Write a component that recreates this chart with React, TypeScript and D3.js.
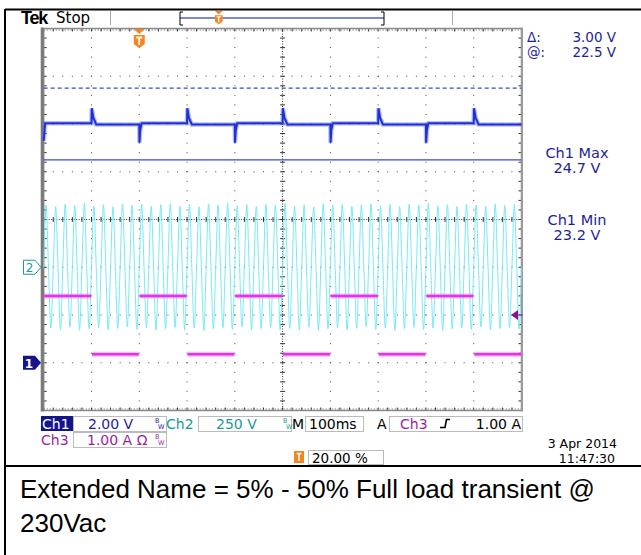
import React from 'react';
import * as d3 from 'd3';

// ---------------- DATA ----------------
// Time base: 100 ms/div, 10 divisions on screen (ms from left edge)
const timeDomain = [0, 1000];
const triggerTimeMs = 200; // 20.00 %

// Ch1: output voltage (V), 2.00 V/div
const ch1Times = [0, 3, 100, 100.6, 104, 110, 200, 200.4, 202, 205, 300, 300.6, 304, 310, 400, 400.4, 402, 405, 500, 500.6, 504, 510, 600, 600.4, 602, 605, 700, 700.6, 704, 710, 800, 800.4, 802, 805, 900, 900.6, 904, 910, 1000];
const ch1Volts = [23.3, 24.03, 24.03, 24.66, 24.25, 23.98, 23.98, 23.22, 23.75, 24.03, 24.03, 24.66, 24.25, 23.98, 23.98, 23.22, 23.75, 24.03, 24.03, 24.66, 24.25, 23.98, 23.98, 23.22, 23.75, 24.03, 24.03, 24.66, 24.25, 23.98, 23.98, 23.22, 23.75, 24.03, 24.03, 24.66, 24.25, 23.98, 23.98];

// Ch2: AC line voltage (V), 250 V/div, 50 Hz -> one peak / trough per 20 ms cycle
const ch2Peaks = [326, 318, 330, 322, 334, 320, 328, 316, 332, 324, 330, 319, 327, 333, 321, 329, 317, 331, 325, 334, 322, 328, 318, 330, 326, 335, 320, 328, 316, 332, 324, 330, 319, 327, 333, 321, 329, 317, 331, 325, 334, 322, 328, 318, 330, 326, 320, 332, 324, 328];
const ch2Troughs = [-318, -326, -314, -330, -322, -316, -328, -320, -312, -326, -318, -330, -322, -315, -327, -319, -331, -323, -317, -325, -313, -329, -321, -316, -328, -320, -326, -314, -330, -322, -316, -328, -320, -312, -326, -318, -330, -322, -315, -327, -319, -331, -323, -317, -325, -313, -329, -321, -316, -324];

// Ch3: load current (A), 1.00 A/div
const ch3Edges = [0, 100, 200, 300, 400, 500, 600, 700, 800, 900, 1000];
const ch3Levels = [1.40, 0.18, 1.40, 0.18, 1.40, 0.18, 1.40, 0.18, 1.40, 0.18];

// Cursors (Ch1)
const cursorVolts = [25.5, 22.5];

// Readouts
const measureLabels = ['Ch1 Max', 'Ch1 Min'];
const measureValues = ['24.7 V', '23.2 V'];
const titleLines = ['Extended Name = 5% - 50% Full load transient @', '230Vac'];

// ---------------- LAYOUT ----------------
const W = 641, H = 555;
const GX0 = 43.7, GX1 = 521.5, GY0 = 28.5, GY1 = 410.5;

const xDiv = d3.scaleLinear().domain([-5, 5]).range([GX0, GX1]);
const yDiv = d3.scaleLinear().domain([-4, 4]).range([GY1, GY0]);
const xTime = d3.scaleLinear().domain(timeDomain).range([GX0, GX1]);

// channel vertical mapping (position in divisions, scale per div, offset value)
const ch1Y = (v: number) => yDiv(-3 + (v - 14) / 2);
const ch2Y = (v: number) => yDiv(-1 + v / 250);
const ch3Y = (a: number) => yDiv(-3 + a / 1);

const NAVY = '#1e1e96';
const TEAL = '#1a9a9a';
const PURPLE = '#9b1f9b';
const ORANGE = '#f7841e';
const FONT = 'DejaVu Sans, Verdana, sans-serif';

function TMarker({ x, y, s }: { x: number; y: number; s: number }) {
  const w = 11 * s;
  const tri = `M${x - w / 2},${y} L${x + w / 2},${y} L${x},${y + 5 * s} Z`;
  const sh = `M${x - w / 2},${y + 6 * s} L${x + w / 2},${y + 6 * s} L${x + w / 2},${y + 15 * s} L${x},${y + 19 * s} L${x - w / 2},${y + 15 * s} Z`;
  return (
    <g>
      <path d={tri} fill={ORANGE} />
      <path d={sh} fill={ORANGE} />
      <path d={`M${x - 3 * s},${y + 8.5 * s} H${x + 3 * s} M${x},${y + 8.5 * s} V${y + 16 * s}`} stroke="#fff" strokeWidth={1.8 * s} />
    </g>
  );
}

function BW({ x, y, c }: { x: number; y: number; c: string }) {
  return (
    <g fill={c} fontSize={6.5}>
      <text x={x} y={y - 5}>B</text>
      <text x={x + 3} y={y + 1}>W</text>
    </g>
  );
}

export default function App() {
  const minorX = d3.range(-5, 5.0001, 0.2);
  const minorY = d3.range(-4, 4.0001, 0.2);

  const lineLin = d3.line<[number, number]>().x(d => d[0]).y(d => d[1]);
  const ch1Pts = ch1Times.map((t, i) => [xTime(t), ch1Y(ch1Volts[i])] as [number, number]);
  const ch1Path = lineLin(ch1Pts) || '';

  const ch2Pts: [number, number][] = [];
  ch2Peaks.forEach((p, k) => {
    const t0 = k * 20;
    ch2Pts.push([xTime(t0), ch2Y(0)]);
    ch2Pts.push([xTime(t0 + 5), ch2Y(p)]);
    ch2Pts.push([xTime(t0 + 10), ch2Y(0)]);
    ch2Pts.push([xTime(t0 + 15), ch2Y(ch2Troughs[k])]);
  });
  ch2Pts.push([xTime(1000), ch2Y(0)]);
  const ch2Path = d3.line<[number, number]>().x(d => d[0]).y(d => d[1]).curve(d3.curveCardinal)(ch2Pts) || '';

  const ch3Segs = ch3Levels.map((lv, i) => {
    const a = ch3Edges[i] + (i === 0 ? 0 : 1);
    const b = ch3Edges[i + 1] - (i === ch3Levels.length - 1 ? 0 : 1);
    return lineLin([[xTime(a), ch3Y(lv)], [xTime(b), ch3Y(lv)]]) || '';
  });

  const dots: JSX.Element[] = [];
  [-4, -3, -2, -1, 1, 2, 3, 4].forEach(k => {
    minorY.forEach((m, j) => {
      dots.push(<rect key={`v${k}_${j}`} x={xDiv(k) - 0.5} y={yDiv(m) - 0.5} width={1} height={1} fill="#444" />);
    });
  });
  [-3, -2, -1, 1, 2, 3].forEach(k => {
    minorX.forEach((m, j) => {
      dots.push(<rect key={`h${k}_${j}`} x={xDiv(m) - 0.5} y={yDiv(k) - 0.5} width={1} height={1} fill="#444" />);
    });
  });

  const ticks: JSX.Element[] = [];
  minorY.forEach((m, j) => {
    const y = yDiv(m);
    ticks.push(<line key={`cy${j}`} x1={xDiv(0) - 2.5} x2={xDiv(0) + 2.5} y1={y} y2={y} stroke="#333" strokeWidth={1} />);
    ticks.push(<line key={`ly${j}`} x1={GX0} x2={GX0 + 3} y1={y} y2={y} stroke="#333" strokeWidth={1} />);
    ticks.push(<line key={`ry${j}`} x1={GX1 - 3} x2={GX1} y1={y} y2={y} stroke="#333" strokeWidth={1} />);
  });
  minorX.forEach((m, j) => {
    const x = xDiv(m);
    ticks.push(<line key={`cx${j}`} x1={x} x2={x} y1={yDiv(0) - 2.5} y2={yDiv(0) + 2.5} stroke="#333" strokeWidth={1} />);
    ticks.push(<line key={`tx${j}`} x1={x} x2={x} y1={GY0} y2={GY0 + 3} stroke="#333" strokeWidth={1} />);
    ticks.push(<line key={`bx${j}`} x1={x} x2={x} y1={GY1 - 3} y2={GY1} stroke="#333" strokeWidth={1} />);
  });

  const trigX = xTime(triggerTimeMs);
  const barX0 = 180, barX1 = 384;
  const barTrig = barX0 + (barX1 - barX0) * 0.19;

  return (
    <svg width={W} height={H} style={{ position: 'absolute', left: 0, top: 0, background: '#fff' }} fontFamily={FONT}>
      <rect x={0} y={0} width={W} height={H} fill="#fff" />
      {/* outer frame */}
      <line x1={5} x2={W} y1={9.5} y2={9.5} stroke="#000" strokeWidth={2} />
      <line x1={5} x2={5} y1={9} y2={H} stroke="#000" strokeWidth={2} />
      <line x1={5} x2={W} y1={466} y2={466} stroke="#000" strokeWidth={2} />

      {/* top status bar */}
      <text x={21} y={24} fontSize={18} fontWeight="bold" fontFamily="Liberation Sans, Arial, sans-serif" letterSpacing={-1.2}>Tek</text>
      <text x={56} y={23} fontSize={15} fontFamily="DejaVu Sans, sans-serif">Stop</text>
      <line x1={110.5} x2={110.5} y1={11} y2={25} stroke="#aaa" strokeWidth={1} />
      <line x1={452.5} x2={452.5} y1={11} y2={25} stroke="#aaa" strokeWidth={1} />
      <line x1={barX0} x2={barX1} y1={18} y2={18} stroke="#5060c8" strokeWidth={1.5} />
      <line x1={barX0} x2={barX0} y1={12} y2={25} stroke="#000" strokeWidth={1} />
      <line x1={barX0} x2={barX0 + 3} y1={12} y2={12} stroke="#000" strokeWidth={1} />
      <line x1={barX0} x2={barX0 + 3} y1={25} y2={25} stroke="#000" strokeWidth={1} />
      <line x1={barX1} x2={barX1} y1={12} y2={25} stroke="#000" strokeWidth={1} />
      <line x1={barX1 - 3} x2={barX1} y1={12} y2={12} stroke="#000" strokeWidth={1} />
      <line x1={barX1 - 3} x2={barX1} y1={25} y2={25} stroke="#000" strokeWidth={1} />
      <TMarker x={barTrig} y={11} s={0.7} />

      {/* graticule */}
      {dots}
      <line x1={xDiv(0)} x2={xDiv(0)} y1={GY0} y2={GY1} stroke="#333" strokeWidth={1} strokeDasharray="1,1.5" />
      <line x1={GX0} x2={GX1} y1={yDiv(0)} y2={yDiv(0)} stroke="#333" strokeWidth={1} strokeDasharray="1,1.5" />
      {ticks}
      <line x1={GX0} x2={GX1} y1={GY0 + 1.5} y2={GY0 + 1.5} stroke="#555" strokeWidth={1} strokeDasharray="1,2" />
      <line x1={GX0} x2={GX1} y1={GY1 - 1.5} y2={GY1 - 1.5} stroke="#555" strokeWidth={1} strokeDasharray="1,2" />
      <rect x={GX0} y={GY0} width={GX1 - GX0} height={GY1 - GY0} fill="none" stroke="#8a8a8a" strokeWidth={1.5} />
      <line x1={GX0 - 1.5} x2={GX0 - 1.5} y1={GY0 - 1} y2={GY1 + 1} stroke="#7a7a7a" strokeWidth={3} />
      <line x1={GX1 + 0.5} x2={GX1 + 0.5} y1={GY0 - 1} y2={GY1 + 1} stroke="#9a9a9a" strokeWidth={2} />

      {/* cursors */}
      <line x1={GX0} x2={GX1} y1={ch1Y(cursorVolts[0])} y2={ch1Y(cursorVolts[0])} stroke="#3848d0" strokeWidth={1.2} strokeDasharray="4,3" />
      <line x1={GX0} x2={GX1} y1={ch1Y(cursorVolts[1])} y2={ch1Y(cursorVolts[1])} stroke="#3848d0" strokeWidth={1.2} />

      {/* traces */}
      <path d={ch2Path} fill="none" stroke="#66e8f0" strokeWidth={0.9} />
      {ch3Segs.map((d, i) => (
        <g key={i}>
          <path d={d} fill="none" stroke="#f070f0" strokeWidth={5} opacity={0.45} />
          <path d={d} fill="none" stroke="#ea30ea" strokeWidth={2.5} />
        </g>
      ))}
      <path d={ch1Path} fill="none" stroke="#6070e8" strokeWidth={4.5} opacity={0.45} />
      <path d={ch1Path} fill="none" stroke="#2030d8" strokeWidth={2} />

      <TMarker x={trigX} y={29} s={1} />

      {/* channel markers */}
      <path d={`M23,${ch1Y(14) - 7} H35 L41,${ch1Y(14)} L35,${ch1Y(14) + 7} H23 Z`} fill="#14148c" />
      <text x={29} y={ch1Y(14) + 5} fontSize={12} fontWeight="bold" fill="#fff" textAnchor="middle">1</text>
      <path d={`M23.5,${ch2Y(0) - 7} H35 L41,${ch2Y(0)} L35,${ch2Y(0) + 7} H23.5 Z`} fill="#fff" stroke={TEAL} strokeWidth={1} />
      <text x={29.5} y={ch2Y(0) + 5} fontSize={12} fill={TEAL} textAnchor="middle">2</text>
      <path d={`M511,${ch3Y(1)} L518,${ch3Y(1) - 5} L518,${ch3Y(1) + 5} Z`} fill="#8a108a" />
      <line x1={518} x2={523} y1={ch3Y(1)} y2={ch3Y(1)} stroke="#8a108a" strokeWidth={1} />

      {/* cursor / measurement readouts */}
      <g fill={NAVY} fontSize={13.5}>
        <text x={527} y={42}>Δ:</text>
        <text x={616} y={42} textAnchor="end">3.00 V</text>
        <text x={527} y={57}>@:</text>
        <text x={616} y={57} textAnchor="end">22.5 V</text>
      </g>
      <g fill={NAVY} fontSize={14.5}>
        <text x={577} y={158} textAnchor="middle">{measureLabels[0]}</text>
        <text x={577} y={173} textAnchor="middle">{measureValues[0]}</text>
        <text x={577} y={225} textAnchor="middle">{measureLabels[1]}</text>
        <text x={577} y={240} textAnchor="middle">{measureValues[1]}</text>
      </g>

      {/* bottom readouts */}
      <g fontSize={14}>
        <rect x={41} y={416} width={32} height={15} fill="#14148c" />
        <text x={42} y={429} fill="#fff">Ch1</text>
        <rect x={73.5} y={416.5} width={93} height={15} fill="#fff" stroke="#bbb" />
        <text x={88} y={429} fill={NAVY}>2.00 V</text>
        <BW x={155} y={428} c={NAVY} />
        <text x={166} y={429} fill={TEAL}>Ch2</text>
        <rect x={198.5} y={416.5} width={93} height={15} fill="#fff" stroke="#bbb" />
        <text x={216} y={429} fill={TEAL}>250 V</text>
        <BW x={283} y={428} c={TEAL} />
        <text x={292} y={429} fill="#000">M</text>
        <rect x={305.5} y={416.5} width={58} height={15} fill="#fff" stroke="#bbb" />
        <text x={309} y={429} fill="#000">100ms</text>
        <text x={377} y={429} fill="#000">A</text>
        <rect x={389.5} y={416.5} width={133} height={15} fill="#fff" stroke="#bbb" />
        <text x={400} y={429} fill={PURPLE}>Ch3</text>
        <path d="M440,427.5 L445,427.5 L446.5,419.5 L450,419.5" fill="none" stroke="#000" strokeWidth={1.6} />
        <text x={521} y={429} fill="#000" textAnchor="end">1.00 A</text>

        <text x={41} y={445} fill={PURPLE}>Ch3</text>
        <rect x={73.5} y={432.5} width={93} height={15} fill="#fff" stroke="#bbb" />
        <text x={87} y={445} fill={PURPLE}>1.00 A Ω</text>
        <BW x={155} y={444} c={PURPLE} />

        <text x={617} y={448} fill="#000" textAnchor="end" fontSize={12.5}>3 Apr  2014</text>
        <text x={615} y={463} fill="#000" textAnchor="end" fontSize={12.5}>11:47:30</text>
        <rect x={294} y={451} width={10} height={12} fill={ORANGE} />
        <path d="M296.5,453.5 H301.5 M299,453.5 V461" stroke="#fff" strokeWidth={1.5} />
        <rect x={308.5} y={450.5} width={75} height={14} fill="#fff" stroke="#bbb" />
        <text x={312} y={463} fill="#000" fontSize={13.5}>20.00 %</text>
      </g>

      {/* caption */}
      <g fontFamily="Liberation Sans, Arial, sans-serif" fontSize={26} fill="#000">
        <text x={20} y={498}>{titleLines[0]}</text>
        <text x={20} y={532}>{titleLines[1]}</text>
      </g>
    </svg>
  );
}
